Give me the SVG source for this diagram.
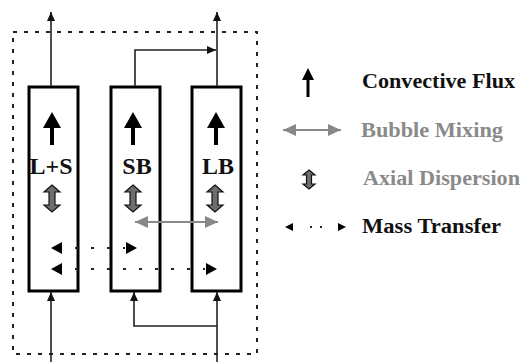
<svg xmlns="http://www.w3.org/2000/svg" width="523" height="362" viewBox="0 0 523 362">
<style>
.box{fill:#fff;stroke:#000;stroke-width:3}
.ln{fill:none;stroke:#222;stroke-width:1.6}
.frame{fill:none;stroke:#222;stroke-width:2;stroke-dasharray:4 7}
.dot{fill:none;stroke:#222;stroke-width:1.8;stroke-dasharray:3 13}
.gray{fill:none;stroke:#888;stroke-width:2}
text{font-family:"Liberation Serif","DejaVu Serif",serif;font-weight:bold}
.lbl{font-size:24px;text-anchor:middle;fill:#111}
.leg{font-size:20px;fill:#111}
.legg{fill:#8a8a8a}
.axial{fill:#6e6e6e;stroke:#111;stroke-width:1.2}
</style>
<defs>
<marker id="ah" markerWidth="10" markerHeight="10" refX="9" refY="5" orient="auto" markerUnits="userSpaceOnUse"><path d="M0,1 L9,5 L0,9 Z" fill="#111"/></marker>
<marker id="gh" markerWidth="14" markerHeight="14" refX="13" refY="7" orient="auto-start-reverse" markerUnits="userSpaceOnUse"><path d="M0,1 L13,7 L0,13 Z" fill="#888"/></marker>
<g id="conv"><path d="M0,0 L9,16 L2,16 L2,33 L-2,33 L-2,16 L-9,16 Z" fill="#000"/></g>
<g id="ax"><path class="axial" d="M0,0 L8,7 L3,7 L3,20 L8,20 L0,27 L-8,20 L-3,20 L-3,7 L-8,7 Z"/></g>
<path id="tl" d="M0,0 L11,-6 L11,6 Z" fill="#000"/>
<path id="tr" d="M0,0 L-11,-6 L-11,6 Z" fill="#000"/>
</defs>
<rect class="frame" x="13" y="32" width="244" height="322"/>
<g id="node-ls">
<rect class="box" x="29" y="87" width="49" height="204"/>
<use href="#conv" x="52" y="112"/>
<text class="lbl" x="51" y="174">L+S</text>
<use href="#ax" x="52" y="185"/>
</g>
<g id="node-sb">
<rect class="box" x="111" y="87" width="49" height="204"/>
<use href="#conv" x="133" y="112"/>
<text class="lbl" x="137" y="174">SB</text>
<use href="#ax" x="133" y="185"/>
</g>
<g id="node-lb">
<rect class="box" x="192" y="87" width="49" height="204"/>
<use href="#conv" x="216" y="112"/>
<text class="lbl" x="218" y="174">LB</text>
<use href="#ax" x="215" y="185"/>
</g>
<g id="connectors">
<path class="ln" d="M51,86 L51,12" marker-end="url(#ah)"/>
<path class="ln" d="M217,86 L217,12" marker-end="url(#ah)"/>
<path class="ln" d="M135,86 L135,50 L216,50" marker-end="url(#ah)"/>
<path class="ln" d="M51,362 L51,292" marker-end="url(#ah)"/>
<path class="ln" d="M217,362 L217,292" marker-end="url(#ah)"/>
<path class="ln" d="M217,326 L134,326 L134,292" marker-end="url(#ah)"/>
<path class="gray" d="M135,222 L218,222" marker-start="url(#gh)" marker-end="url(#gh)"/>
<path class="dot" d="M75,248 L125,248"/>
<use href="#tl" x="51" y="248"/><use href="#tr" x="137" y="248"/>
<path class="dot" d="M75,269 L205,269"/>
<use href="#tl" x="51" y="269"/><use href="#tr" x="217" y="269"/>
</g>
<g id="legend">
<path d="M308,68 L314,80 L309.5,80 L309.5,97 L306.5,97 L306.5,80 L302,80 Z" fill="#000"/>
<text class="leg" x="362" y="88" textLength="153" lengthAdjust="spacingAndGlyphs">Convective Flux</text>
<path class="gray" d="M283,130 L341,130" marker-start="url(#gh)" marker-end="url(#gh)"/>
<text class="leg legg" x="361" y="137" textLength="142" lengthAdjust="spacingAndGlyphs">Bubble Mixing</text>
<path class="axial" d="M309,170 L315,175 L311.5,175 L311.5,184 L315,184 L309,189 L303,184 L306.5,184 L306.5,175 L303,175 Z"/>
<text class="leg legg" x="363" y="185" textLength="157" lengthAdjust="spacingAndGlyphs">Axial Dispersion</text>
<path d="M285,227 L293,223 L293,231 Z" fill="#000"/>
<path class="dot" d="M310,227 L330,227" style="stroke-dasharray:2 8"/>
<path d="M346,227 L338,223 L338,231 Z" fill="#000"/>
<text class="leg" x="362" y="233" textLength="139" lengthAdjust="spacingAndGlyphs">Mass Transfer</text>
</g>
</svg>
